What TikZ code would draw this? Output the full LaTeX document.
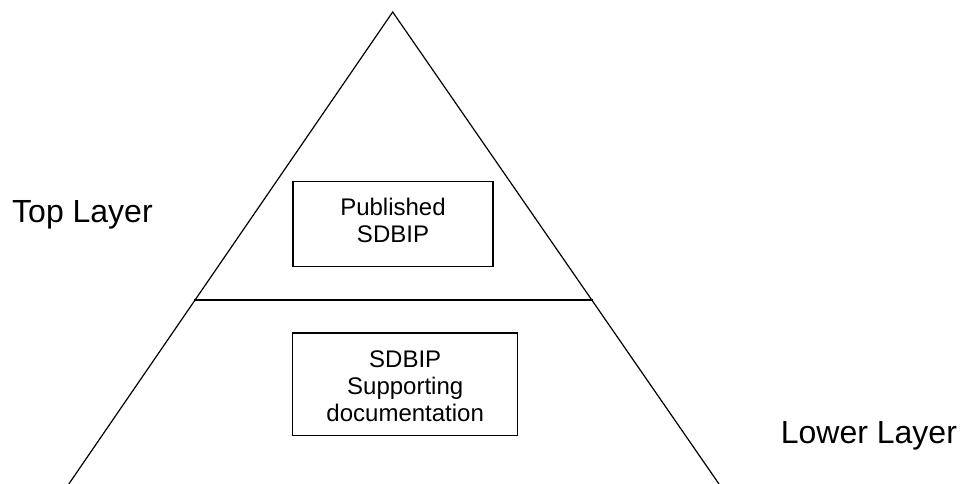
\documentclass[tikz,border=0pt]{standalone}
\usepackage{fontspec}
\setmainfont{Liberation Sans}
\begin{document}
\begin{tikzpicture}[x=1pt,y=-1pt,
  boxframe/.style={draw, line width=1.2pt, inner sep=0pt},
  boxtext/.style={align=center, font=\fontsize{24}{27}\selectfont, inner sep=0pt},
  layertext/.style={anchor=base west, inner sep=0pt, font=\fontsize{32}{36}\selectfont},
  side/.style={line width=1.2pt},
  divider/.style={line width=2.2pt}]
  \useasboundingbox (0,0) rectangle (961,484);
  % pyramid outline
  \coordinate (apex) at (392.7,12);
  \coordinate (baseL) at (68.8,484);
  \coordinate (baseR) at (719,484);
  \draw[side] (baseL) -- (apex) -- (baseR);
  % layer divider
  \coordinate (divL) at (194,300);
  \coordinate (divR) at (593,300);
  \draw[divider] (divL) -- (divR);
  % upper box
  \node[boxframe, minimum width=200, minimum height=85] (top) at (393,224) {};
  \node[boxtext, yshift=4pt] (toptxt) at (top.center) {Published\\SDBIP};
  % lower box
  \node[boxframe, minimum width=225, minimum height=102.7] (low) at (405.2,384.4) {};
  \node[boxtext, yshift=-1.5pt] (lowtxt) at (low.center) {SDBIP\\Supporting\\documentation};
  % layer labels
  \node[layertext] (toplabel) at (12,222.7) {Top Layer};
  \node[layertext] (lowlabel) at (780.7,443.3) {Lower Layer};
\end{tikzpicture}
\end{document}
